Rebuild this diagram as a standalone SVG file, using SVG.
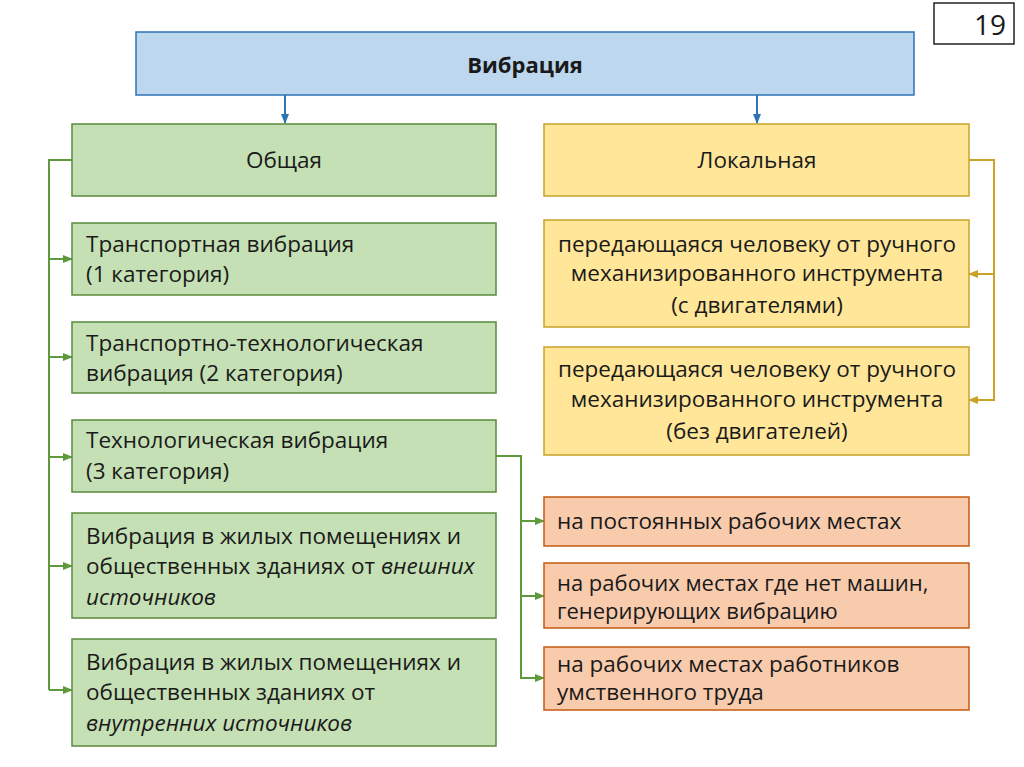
<svg xmlns="http://www.w3.org/2000/svg" width="1024" height="767" viewBox="0 0 1024 767">
<defs>
<style>
text{font-family:"Open Sans","Noto Sans","Liberation Sans",sans-serif;font-size:22.5px;fill:#1a1a1a}
.g{fill:#C5E0B4;stroke:#5A8A3C;stroke-width:1.5}
.y{fill:#FFE699;stroke:#C9A227;stroke-width:1.5}
.o{fill:#F8CBAD;stroke:#C55A11;stroke-width:1.5}
.c{text-anchor:middle}
.cg{fill:none;stroke:#5E9A3C;stroke-width:2}
.cy{fill:none;stroke:#C9A227;stroke-width:2}
.cb{fill:none;stroke:#2E75B6;stroke-width:2}
</style>
<marker id="ag" markerWidth="10" markerHeight="10" refX="9" refY="5" orient="auto" markerUnits="userSpaceOnUse"><path d="M0,1 L10,5 L0,9 z" fill="#5E9A3C"/></marker>
<marker id="ay" markerWidth="10" markerHeight="10" refX="9" refY="5" orient="auto" markerUnits="userSpaceOnUse"><path d="M0,1 L10,5 L0,9 z" fill="#C9A227"/></marker>
<marker id="ab" markerWidth="10" markerHeight="10" refX="9" refY="5" orient="auto" markerUnits="userSpaceOnUse"><path d="M0,1 L10,5 L0,9 z" fill="#2E75B6"/></marker>
</defs>
<rect width="1024" height="767" fill="#fff"/>

<g id="page">
<rect x="934" y="3" width="80" height="41" fill="#fff" stroke="#222" stroke-width="1.5"/>
<text x="990" y="35" class="c" style="font-size:28px">19</text>
</g>

<g id="connectors">
<path class="cb" d="M285,95 V123" marker-end="url(#ab)"/>
<path class="cb" d="M757,95 V123" marker-end="url(#ab)"/>
<path class="cg" d="M72,160 H49 V690"/>
<path class="cg" d="M49,259 H72" marker-end="url(#ag)"/>
<path class="cg" d="M49,357 H72" marker-end="url(#ag)"/>
<path class="cg" d="M49,457 H72" marker-end="url(#ag)"/>
<path class="cg" d="M49,566 H72" marker-end="url(#ag)"/>
<path class="cg" d="M49,690 H72" marker-end="url(#ag)"/>
<path class="cy" d="M969,160 H994 V400 H969" marker-end="url(#ay)"/>
<path class="cy" d="M994,274 H969" marker-end="url(#ay)"/>
<path class="cg" d="M496,456 H521 V678 H544" marker-end="url(#ag)"/>
<path class="cg" d="M521,521 H544" marker-end="url(#ag)"/>
<path class="cg" d="M521,596 H544" marker-end="url(#ag)"/>
</g>

<g id="vibration">
<rect x="136" y="32" width="778" height="63" fill="#BDD7EE" stroke="#2E75B6" stroke-width="1.5"/>
<text x="525" y="73" class="c" style="font-weight:bold;font-size:22px">Вибрация</text>
</g>

<g id="general">
<rect class="g" x="72" y="124" width="424" height="72"/>
<text x="284" y="168" class="c">Общая</text>
</g>
<g id="local">
<rect class="y" x="544" y="124" width="425" height="72"/>
<text x="757" y="168" class="c">Локальная</text>
</g>

<g id="g1">
<rect class="g" x="72" y="223" width="424" height="72"/>
<text x="86" y="252">Транспортная вибрация</text>
<text x="86" y="282">(1 категория)</text>
</g>
<g id="g2">
<rect class="g" x="72" y="322" width="424" height="71"/>
<text x="86" y="351">Транспортно-технологическая</text>
<text x="86" y="381">вибрация (2 категория)</text>
</g>
<g id="g3">
<rect class="g" x="72" y="420" width="424" height="72"/>
<text x="86" y="448">Технологическая вибрация</text>
<text x="86" y="479">(3 категория)</text>
</g>
<g id="g4">
<rect class="g" x="72" y="513" width="424" height="105"/>
<text x="86" y="544">Вибрация в жилых помещениях и</text>
<text x="86" y="574">общественных зданиях от <tspan font-style="italic">внешних</tspan></text>
<text x="86" y="605" font-style="italic">источников</text>
</g>
<g id="g5">
<rect class="g" x="72" y="639" width="424" height="107"/>
<text x="86" y="670">Вибрация в жилых помещениях и</text>
<text x="86" y="700">общественных зданиях от</text>
<text x="86" y="731" font-style="italic">внутренних источников</text>
</g>

<g id="y1">
<rect class="y" x="544" y="220" width="425" height="107"/>
<text x="757" y="252" class="c">передающаяся человеку от ручного</text>
<text x="757" y="281" class="c">механизированного инструмента</text>
<text x="757" y="313" class="c">(с двигателями)</text>
</g>
<g id="y2">
<rect class="y" x="544" y="347" width="425" height="108"/>
<text x="757" y="377" class="c">передающаяся человеку от ручного</text>
<text x="757" y="407" class="c">механизированного инструмента</text>
<text x="757" y="439" class="c">(без двигателей)</text>
</g>

<g id="o1">
<rect class="o" x="544" y="497" width="425" height="49"/>
<text x="557" y="529">на постоянных рабочих местах</text>
</g>
<g id="o2">
<rect class="o" x="544" y="563" width="425" height="65"/>
<text x="557" y="591" style="font-size:22px">на рабочих местах где нет машин,</text>
<text x="557" y="619" style="font-size:22px">генерирующих вибрацию</text>
</g>
<g id="o3">
<rect class="o" x="544" y="647" width="425" height="63"/>
<text x="557" y="672">на рабочих местах работников</text>
<text x="557" y="700">умственного труда</text>
</g>
</svg>
